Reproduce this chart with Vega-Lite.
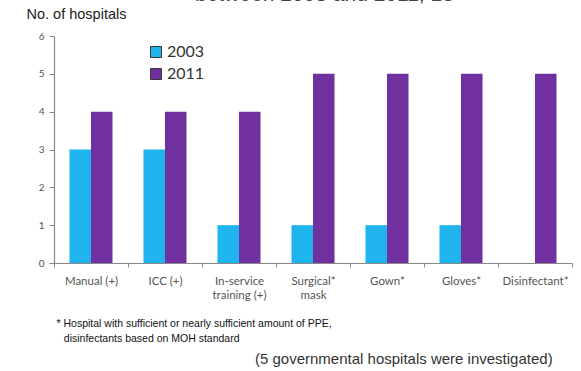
{
  "$schema": "https://vega.github.io/schema/vega-lite/v6.json",
  "width": 518,
  "height": 227,
  "autosize": "none",
  "padding": {"left": 54, "top": 36, "right": 9, "bottom": 108},
  "background": "white",
  "title": {
    "text": "between 2003 and 2011, 13",
    "subtitle": "\u200b\u2003\u2003\u2003\u2003(5 governmental hospitals were investigated)",
    "orient": "top",
    "anchor": "start",
    "frame": "group",
    "dx": 141,
    "offset": -361,
    "subtitlePadding": 347,
    "font": "Liberation Sans",
    "fontSize": 21,
    "fontWeight": "normal",
    "color": "#444444",
    "subtitleFont": "Liberation Sans",
    "subtitleFontSize": 15,
    "subtitleColor": "#333333"
  },
  "data": {
    "values": [
      {"item": "Manual (+)", "year": "2003", "hospitals": 3},
      {"item": "Manual (+)", "year": "2011", "hospitals": 4},
      {"item": "ICC (+)", "year": "2003", "hospitals": 3},
      {"item": "ICC (+)", "year": "2011", "hospitals": 4},
      {"item": "In-service training (+)", "year": "2003", "hospitals": 1},
      {"item": "In-service training (+)", "year": "2011", "hospitals": 4},
      {"item": "Surgical* mask", "year": "2003", "hospitals": 1},
      {"item": "Surgical* mask", "year": "2011", "hospitals": 5},
      {"item": "Gown*", "year": "2003", "hospitals": 1},
      {"item": "Gown*", "year": "2011", "hospitals": 5},
      {"item": "Gloves*", "year": "2003", "hospitals": 1},
      {"item": "Gloves*", "year": "2011", "hospitals": 5},
      {"item": "Disinfectant*", "year": "2003", "hospitals": 0},
      {"item": "Disinfectant*", "year": "2011", "hospitals": 5}
    ]
  },
  "mark": {"type": "bar"},
  "encoding": {
    "x": {
      "field": "item",
      "type": "nominal",
      "sort": null,
      "scale": {"paddingInner": 0, "paddingOuter": 0},
      "axis": {
        "title": ["* Hospital with sufficient or nearly sufficient amount of PPE,", "\u200b\u2002\u2009disinfectants based on MOH standard"],
        "titleX": 2,
        "titleY": 63,
        "titleAlign": "left",
        "titleAnchor": "start",
        "titleBaseline": "alphabetic",
        "titleFont": "Liberation Sans",
        "titleFontSize": 10.5,
        "titleFontWeight": "normal",
        "titleColor": "#111111",
        "titleLineHeight": 15,
        "labelAngle": 0,
        "labelFont": "Lato",
        "labelFontSize": 11.5,
        "labelColor": "#555555",
        "labelPadding": 8,
        "labelLineHeight": 14,
        "labelExpr": "datum.label == 'In-service training (+)' ? ['In-service', 'training (+)'] : datum.label == 'Surgical* mask' ? ['Surgical*', 'mask'] : datum.label",
        "tickBand": "extent",
        "tickSize": 4,
        "tickColor": "#888888",
        "domainColor": "#888888",
        "domainWidth": 1.2
      }
    },
    "xOffset": {
      "field": "year",
      "type": "nominal",
      "scale": {"paddingOuter": 0.72, "paddingInner": 0}
    },
    "y": {
      "field": "hospitals",
      "type": "quantitative",
      "scale": {"domain": [0, 6]},
      "axis": {
        "values": [0, 1, 2, 3, 4, 5, 6],
        "grid": false,
        "title": "No. of hospitals",
        "titleAngle": 0,
        "titleX": -28,
        "titleY": -18,
        "titleAlign": "left",
        "titleBaseline": "alphabetic",
        "titleFont": "Liberation Sans",
        "titleFontSize": 14.5,
        "titleFontWeight": "normal",
        "titleColor": "#222222",
        "labelFont": "Lato",
        "labelFontSize": 10,
        "labelColor": "#555555",
        "labelPadding": 5,
        "tickSize": 5,
        "tickColor": "#888888",
        "domainColor": "#888888",
        "domainWidth": 1.2
      }
    },
    "color": {
      "field": "year",
      "type": "nominal",
      "scale": {"domain": ["2003", "2011"], "range": ["#1FB4EE", "#7030A0"]},
      "legend": {
        "title": null,
        "orient": "none",
        "legendX": 94,
        "legendY": 8,
        "padding": 0,
        "symbolType": "square",
        "symbolSize": 121,
        "symbolStrokeColor": "#3a3a3a",
        "symbolStrokeWidth": 1,
        "labelFont": "Lato",
        "labelFontSize": 16,
        "labelColor": "#333333",
        "labelOffset": 3,
        "rowPadding": 6
      }
    }
  },
  "config": {"view": {"stroke": null}}
}
